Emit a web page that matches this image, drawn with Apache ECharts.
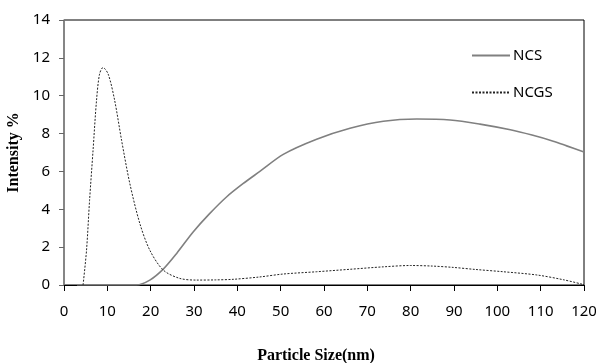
<!DOCTYPE html>
<html>
<head>
<meta charset="utf-8">
<script src="https://cdn.jsdelivr.net/npm/echarts@6/dist/echarts.min.js"></script>
<style>html,body{margin:0;padding:0;background:#fff}#c{width:596px;height:363px}</style>
</head>
<body>
<div id="c"></div>
<script>
const ncsX = [3, 16.7, 19.8, 22.9, 26, 29.8, 33.6, 37.5, 41.3, 45.2, 50.6, 58.3, 66, 73.7, 81.4, 89.1, 96, 103, 108, 112.9, 116, 120];
const ncsY = [0, 0, 0.26, 0.84, 1.67, 2.8, 3.77, 4.65, 5.35, 6.0, 6.9, 7.7, 8.28, 8.65, 8.77, 8.72, 8.5, 8.2, 7.92, 7.6, 7.35, 7.02];
const ncgsX = [4.4, 5.2, 5.9, 6.7, 7.5, 8.2, 9.0, 10.2, 11.7, 13.3, 15.2, 17.5, 19.8, 22.9, 26.7, 30.6, 35, 39, 45, 50.6, 58.3, 66, 73.7, 80, 85, 89.8, 95, 101.4, 109.1, 115.2, 120];
const ncgsY = [0, 1.84, 4.47, 7.1, 9.74, 11.14, 11.49, 11.14, 9.74, 7.63, 5.35, 3.25, 1.84, 0.79, 0.35, 0.26, 0.27, 0.3, 0.42, 0.58, 0.7, 0.83, 0.96, 1.03, 1.0, 0.93, 0.82, 0.7, 0.53, 0.28, 0.02];
const seriesNames = ['NCS', 'NCGS'];
const xTitle = 'Particle Size(nm)';
const yTitle = 'Intensity %';

const zip = (xs, ys) => xs.map((x, i) => [x, ys[i]]);
const tickFont = "'Liberation Sans Narrow', 'Noto Sans', sans-serif";
const titleFont = "'Liberation Serif', 'DejaVu Serif', serif";

const chart = echarts.init(document.getElementById('c'));
chart.setOption({
  animation: false,
  backgroundColor: '#fff',
  grid: { left: 64, right: 12, top: 20, bottom: 78, outerBoundsMode: 'none', containLabel: false,
          show: true, borderColor: '#000', borderWidth: 1 },
  legend: {
    orient: 'vertical', left: 466, top: 43, itemWidth: 38, itemHeight: 14, itemGap: 22,
    itemStyle: { opacity: 0 },
    textStyle: { fontFamily: tickFont, fontSize: 15, color: '#000', padding: [0, 0, 0, -2] },
    data: seriesNames
  },
  xAxis: {
    type: 'value', min: 0, max: 120, interval: 10,
    name: xTitle, nameLocation: 'middle', nameGap: 63,
    nameTextStyle: { fontFamily: titleFont, fontWeight: 'bold', fontSize: 16, color: '#000', padding: [0, 16, 0, 0] },
    axisLine: { show: true, lineStyle: { color: '#000', width: 1 } },
    axisTick: { show: true, inside: false, length: 6, lineStyle: { color: '#000' } },
    axisLabel: { margin: 19, fontFamily: tickFont, fontSize: 15, color: '#000' },
    splitLine: { show: false }
  },
  yAxis: {
    type: 'value', min: 0, max: 14, interval: 2,
    name: yTitle, nameLocation: 'middle', nameGap: 32,
    nameTextStyle: { fontFamily: titleFont, fontWeight: 'bold', fontSize: 16, color: '#000' },
    axisLine: { show: true, lineStyle: { color: '#888', width: 1.5 } },
    axisTick: { show: true, inside: false, length: 5, lineStyle: { color: '#666' } },
    axisLabel: { margin: 14, fontFamily: tickFont, fontSize: 15, color: '#000' },
    splitLine: { show: false }
  },
  series: [
    {
      name: seriesNames[0], type: 'line', data: zip(ncsX, ncsY),
      smooth: 0.3, symbol: 'none', showSymbol: false,
      lineStyle: { color: '#808080', width: 1.6, type: 'solid' },
      itemStyle: { color: '#808080' }
    },
    {
      name: seriesNames[1], type: 'line', data: zip(ncgsX, ncgsY),
      smooth: 0.3, symbol: 'none', showSymbol: false,
      lineStyle: { color: '#222', width: 1, type: [2, 1.5] },
      itemStyle: { color: '#222' }
    }
  ]
});
</script>
</body>
</html>
